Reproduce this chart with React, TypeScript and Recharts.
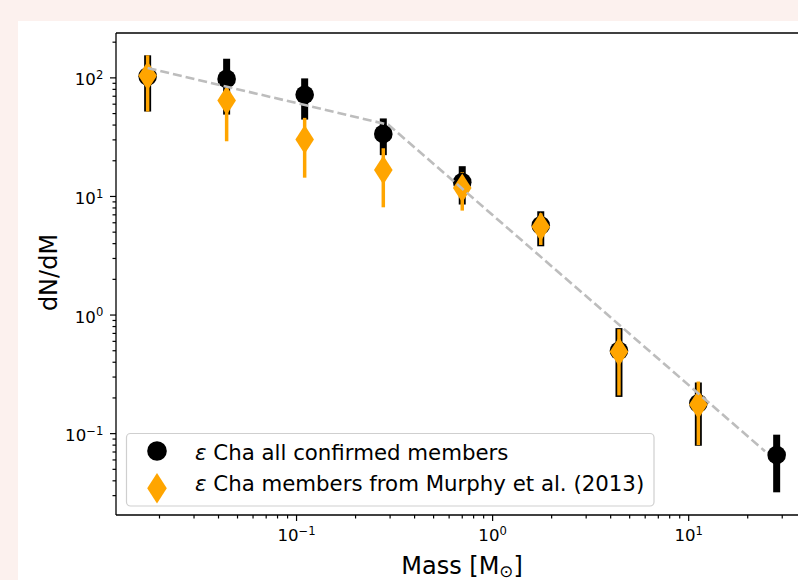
import React from 'react';
import { ComposedChart, Scatter, XAxis, YAxis, ErrorBar, ReferenceLine } from 'recharts';

// mass bins (solar masses) and dN/dM values
const masses = [0.0174, 0.044, 0.11, 0.277, 0.7, 1.76, 4.41, 11.2, 28.1];
const allVals = [103, 98, 72, 33.7, 13.2, 5.7, 0.5, 0.18, 0.066];
const allLo = [52, 49, 44.5, 22.3, 8.55, 3.8, 0.204, 0.079, 0.032];
const allHi = [155, 145, 99, 45.5, 18.0, 7.5, 0.776, 0.27, 0.098];

const murphyVals = [104, 64.4, 30.2, 16.7, 11.8, 5.55, 0.49, 0.176];
const murphyLo = [52, 29.2, 14.4, 8.1, 7.6, 3.9, 0.21, 0.08];
const murphyHi = [155, 85, 46, 25.5, 16, 7.2, 0.76, 0.275];

// broken power-law (dashed grey)
const fitMass = [0.0174, 0.294, 24.5];
const fitVals = [121, 40.3, 0.071];

const xMajor = [0.1, 1, 10];
const xExps = ['\u22121', '0', '1'];
const yMajor = [0.1, 1, 10, 100];
const yExps = ['\u22121', '0', '1', '2'];

const X_DOMAIN: [number, number] = [0.012, 40.6];
const Y_DOMAIN: [number, number] = [0.0206, 239];

const FONT = '"DejaVu Sans", sans-serif';
const ORANGE = '#FFA500';

function logTicks(domain: [number, number]) {
  const out: number[] = [];
  for (let e = -3; e <= 3; e++) {
    for (let k = 1; k <= 9; k++) {
      const v = +(k * Math.pow(10, e)).toPrecision(6);
      if (v >= domain[0] && v <= domain[1]) out.push(v);
    }
  }
  return out;
}

const xTicks = logTicks(X_DOMAIN);
const yTicks = logTicks(Y_DOMAIN);

const allData = masses.map((m, i) => ({
  m, v: allVals[i], err: [allVals[i] - allLo[i], allHi[i] - allVals[i]],
}));
const murphyData = murphyVals.map((v, i) => ({
  m: masses[i], v, err: [v - murphyLo[i], murphyHi[i] - v],
}));
const fitData = fitMass.map((m, i) => ({ m, v: fitVals[i] }));

function XTick({ x, y, payload }: any) {
  const idx = xMajor.indexOf(payload.value);
  const major = idx >= 0;
  return (
    <g>
      <line x1={x} x2={x} y1={y} y2={y + (major ? 6 : 3.5)} stroke="#000" strokeWidth={1.2} />
      {major && (
        <text x={x} y={y + 26.4} textAnchor="middle" fontSize={16.6} fontFamily={FONT} fill="#000">
          10<tspan fontSize={11.6} dy={-6.2}>{xExps[idx]}</tspan>
        </text>
      )}
    </g>
  );
}

function YTick({ x, y, payload }: any) {
  const idx = yMajor.indexOf(payload.value);
  const major = idx >= 0;
  return (
    <g>
      <line x1={x - (major ? 6 : 3.5)} x2={x} y1={y} y2={y} stroke="#000" strokeWidth={1.2} />
      {major && (
        <text x={x - 12.7} y={y + 7.6} textAnchor="end" fontSize={16.6} fontFamily={FONT} fill="#000">
          10<tspan fontSize={11.6} dy={-6.2}>{yExps[idx]}</tspan>
        </text>
      )}
    </g>
  );
}

const Dot = ({ cx, cy }: any) => <circle cx={cx} cy={cy} r={9.3} fill="#000" />;
const Diamond = ({ cx, cy }: any) => (
  <polygon
    points={`${cx},${cy - 14.5} ${cx + 9.3},${cy} ${cx},${cy + 14.5} ${cx - 9.3},${cy}`}
    fill={ORANGE}
  />
);
const Nothing = () => <g />;

export default function App() {
  return (
    <div style={{ position: 'fixed', left: 0, top: 0, width: 798, height: 580, overflow: 'hidden', background: '#fcf1ee' }}>
      <div style={{ position: 'absolute', left: 18, top: 21, width: 820, height: 600, background: '#fff' }} />
      <div style={{ position: 'absolute', left: 0, top: 0 }}>
        <ComposedChart width={860} height={580} margin={{ top: 33, right: 52, bottom: 25, left: 56 }}>
          <XAxis
            dataKey="m" type="number" scale="log" domain={X_DOMAIN} allowDataOverflow
            ticks={xTicks} interval={0} tick={<XTick />} tickLine={false} tickSize={0} tickMargin={0}
            axisLine={{ stroke: '#000', strokeWidth: 1.3 }} height={40}
          />
          <YAxis
            dataKey="v" type="number" scale="log" domain={Y_DOMAIN} allowDataOverflow
            ticks={yTicks} interval={0} tick={<YTick />} tickLine={false} tickSize={0} tickMargin={0}
            axisLine={{ stroke: '#000', strokeWidth: 1.3 }} width={60}
          />
          <ReferenceLine y={Y_DOMAIN[1]} stroke="#000" strokeWidth={1.3} />
          <Scatter data={allData} dataKey="v" shape={<Dot />} isAnimationActive={false}>
            <ErrorBar dataKey="err" direction="y" width={0} stroke="#000" strokeWidth={7} isAnimationActive={false} />
          </Scatter>
          <Scatter data={murphyData} dataKey="v" shape={<Diamond />} isAnimationActive={false}>
            <ErrorBar dataKey="err" direction="y" width={0} stroke={ORANGE} strokeWidth={3.5} isAnimationActive={false} />
          </Scatter>
          <Scatter
            data={fitData} dataKey="v" shape={<Nothing />} isAnimationActive={false}
            line={{ stroke: '#bdbdbd', strokeWidth: 2.6, strokeDasharray: '9 4' }} lineType="joint"
          />
        </ComposedChart>
      </div>
      <svg width={798} height={580} style={{ position: 'absolute', left: 0, top: 0, pointerEvents: 'none' }}>
        <text
          x={56.5} y={272.5} transform="rotate(-90 56.5 272.5)" textAnchor="middle"
          fontSize={24} fontFamily={FONT} fill="#000"
        >
          dN/dM
        </text>
        <text x={462} y={574} textAnchor="middle" fontSize={24} fontFamily={FONT} fill="#000">
          Mass [M<tspan fontSize={16.8} dy={3}>{'\u2299'}</tspan><tspan dy={-3}>]</tspan>
        </text>
        {/* legend */}
        <rect x={126.5} y={433.5} width={527.5} height={72.5} rx={4} fill="#fff" fillOpacity={0.8} stroke="#cfcfcf" strokeWidth={1.2} />
        <circle cx={157} cy={451} r={9.8} fill="#000" />
        <polygon points="157,473 166.8,488.3 157,503.6 147.2,488.3" fill={ORANGE} />
        <text x={195} y={459.6} fontSize={21.3} fontFamily={FONT} fill="#000">
          <tspan fontStyle="italic">{'\u03B5'}</tspan> Cha all confirmed members
        </text>
        <text x={195} y={491.2} fontSize={21.3} fontFamily={FONT} fill="#000">
          <tspan fontStyle="italic">{'\u03B5'}</tspan> Cha members from Murphy et al. (2013)
        </text>
      </svg>
    </div>
  );
}
